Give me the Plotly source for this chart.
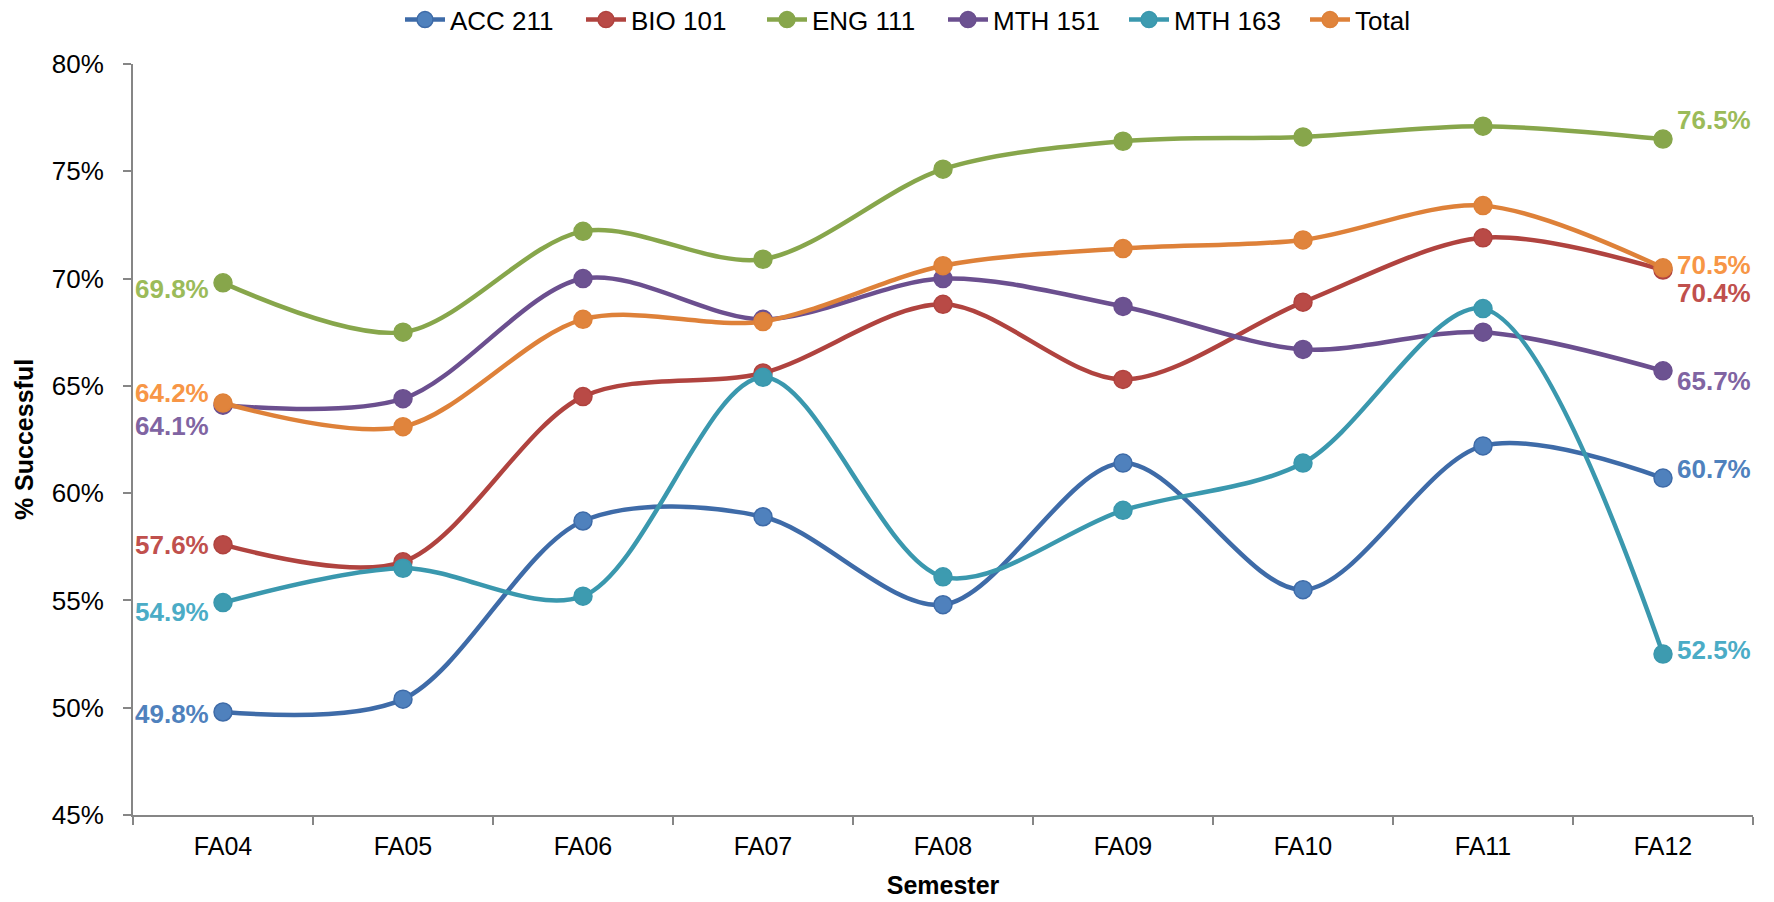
import plotly.graph_objects as go

semesters = ["FA04", "FA05", "FA06", "FA07", "FA08", "FA09", "FA10", "FA11", "FA12"]

acc_211 = [49.8, 50.4, 58.7, 58.9, 54.8, 61.4, 55.5, 62.2, 60.7]
bio_101 = [57.6, 56.8, 64.5, 65.6, 68.8, 65.3, 68.9, 71.9, 70.4]
eng_111 = [69.8, 67.5, 72.2, 70.9, 75.1, 76.4, 76.6, 77.1, 76.5]
mth_151 = [64.1, 64.4, 70.0, 68.1, 70.0, 68.7, 66.7, 67.5, 65.7]
mth_163 = [54.9, 56.5, 55.2, 65.4, 56.1, 59.2, 61.4, 68.6, 52.5]
total = [64.2, 63.1, 68.1, 68.0, 70.6, 71.4, 71.8, 73.4, 70.5]

series_names = ["ACC 211", "BIO 101", "ENG 111", "MTH 151", "MTH 163", "Total"]
series_values = [acc_211, bio_101, eng_111, mth_151, mth_163, total]
line_colors = ["#3E6BA8", "#B0433F", "#87A64B", "#6B4F8F", "#3A98AE", "#DE8139"]
marker_colors = ["#4F81BD", "#B94A46", "#87A64B", "#6C5291", "#3D9BB0", "#E0843C"]
label_colors = ["#4F81BD", "#C0504D", "#9BBB59", "#8064A2", "#4BACC6", "#F79646"]

# vertical nudges (px) for the first / last point labels, to keep them apart
first_shift = [-2, 0, -6, -21, -9, 10]
last_shift = [9, -23, 19, -10, 4, 3]

FONT = "Liberation Sans, Arial, sans-serif"

fig = go.Figure()

for i in range(len(series_names)):
    fig.add_trace(go.Scatter(
        x=semesters,
        y=series_values[i],
        name=series_names[i],
        mode="lines+markers",
        line=dict(color=line_colors[i], width=4.5, shape="spline", smoothing=0.9),
        marker=dict(size=18, color=marker_colors[i],
                    line=dict(color=line_colors[i], width=1.5)),
        legendrank=i,
    ))

annotations = []
for i, vals in enumerate(series_values):
    annotations.append(dict(
        x=semesters[0], y=vals[0], xref="x", yref="y",
        text=f"{vals[0]:.1f}%", showarrow=False,
        xanchor="right", yanchor="middle", xshift=-12, yshift=first_shift[i],
        font=dict(family=FONT, size=26, color=label_colors[i], weight="bold"),
    ))
    annotations.append(dict(
        x=semesters[-1], y=vals[-1], xref="x", yref="y",
        text=f"{vals[-1]:.1f}%", showarrow=False,
        xanchor="left", yanchor="middle", xshift=12, yshift=last_shift[i],
        font=dict(family=FONT, size=26, color=label_colors[i], weight="bold"),
    ))

fig.update_layout(
    width=1774,
    height=902,
    margin=dict(l=133, r=21, t=64, b=87, autoexpand=False),
    paper_bgcolor="white",
    plot_bgcolor="white",
    font=dict(family=FONT, size=25, color="black"),
    showlegend=True,
    legend=dict(
        orientation="h",
        x=0.5, xanchor="center",
        y=1.059, yanchor="middle",
        font=dict(family=FONT, size=26, color="black"),
        entrywidth=126,
        itemwidth=40,
        traceorder="normal",
    ),
    annotations=annotations,
    xaxis=dict(
        type="category",
        range=[-0.5, 8.5],
        showline=True, linecolor="#868686", linewidth=2,
        ticks="outside", tickson="boundaries", ticklen=8, tickcolor="#868686", tickwidth=2,
        tickfont=dict(family=FONT, size=25, color="black"),
        ticklabelstandoff=8,
        showgrid=False, zeroline=False,
        title=dict(text="Semester", standoff=17,
                   font=dict(family=FONT, size=25, color="black", weight="bold")),
    ),
    yaxis=dict(
        range=[45, 80],
        dtick=5,
        ticksuffix="%",
        showline=True, linecolor="#868686", linewidth=2,
        ticks="outside", ticklen=8, tickcolor="#868686", tickwidth=2,
        tickfont=dict(family=FONT, size=26, color="black"),
        ticklabelstandoff=14,
        showgrid=False, zeroline=False,
        title=dict(text="% Successful", standoff=11,
                   font=dict(family=FONT, size=25, color="black", weight="bold")),
    ),
)

fig.write_html("out.html")
